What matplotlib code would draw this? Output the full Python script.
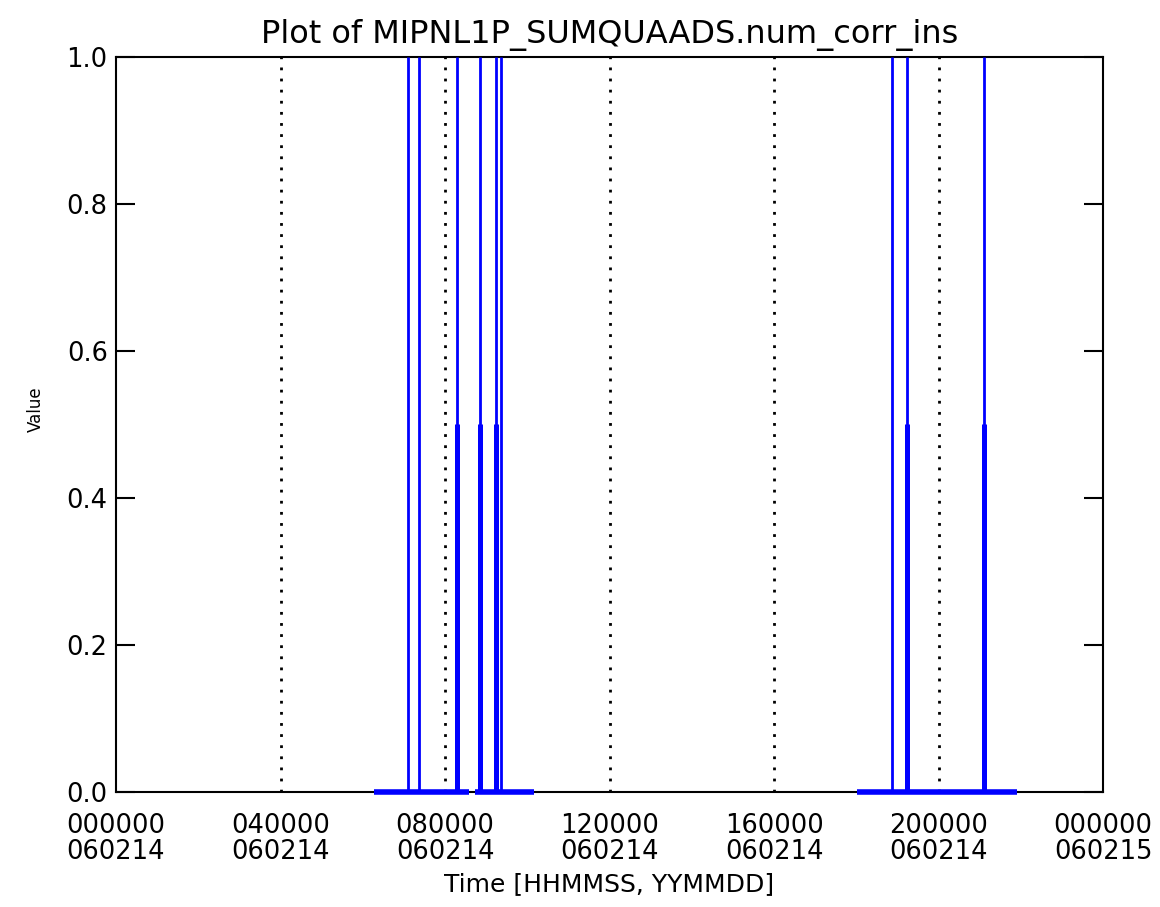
import matplotlib
matplotlib.use('Agg')
import matplotlib.pyplot as plt

# time in hours since 000000 060214
seg_start = [6.27, 8.73, 18.02]
seg_end = [8.58, 10.16, 21.91]
spike_t = [7.11, 7.37, 8.29, 8.86, 9.24, 9.37, 18.86, 19.23, 21.11]
spike_val = [1.0, 1.0, 1.0, 1.0, 1.0, 1.0, 1.0, 1.0, 1.0]
half_t = [8.29, 8.86, 9.24, 19.23, 21.11]
half_val = [0.5, 0.5, 0.5, 0.5, 0.5]

tick_hours = [0, 4, 8, 12, 16, 20, 24]
tick_labels = ['000000\n060214', '040000\n060214', '080000\n060214', '120000\n060214',
               '160000\n060214', '200000\n060214', '000000\n060215']
grid_hours = [4, 8, 12, 16, 20]
y_ticks = [0.0, 0.2, 0.4, 0.6, 0.8, 1.0]

blue = '#0000ff'

fig = plt.figure(figsize=(11.6, 9.07), dpi=100)
ax = fig.add_axes([0.1, 0.1268, 0.8509, 0.8104])

for h in grid_hours:
    ax.axvline(h, color='black', linestyle=(0, (1, 3)), linewidth=2, zorder=1)

for s, e in zip(seg_start, seg_end):
    ax.plot([s, e], [0, 0], color=blue, linewidth=4, solid_capstyle='butt',
            zorder=3, clip_on=False)
ax.vlines(spike_t, 0, spike_val, color=blue, linewidth=2, zorder=3)
ax.vlines(half_t, 0, half_val, color=blue, linewidth=3.6, zorder=3)

ax.set_xlim(0, 24)
ax.set_ylim(0, 1)
ax.set_xticks(tick_hours)
ax.set_xticklabels(tick_labels, fontsize=18.5, linespacing=1.0)
ax.set_yticks(y_ticks)
ax.set_yticklabels(['%.1f' % v for v in y_ticks], fontsize=18.5)
ax.tick_params(axis='x', length=0, pad=15)
ax.tick_params(axis='y', direction='in', length=14, width=1.5, left=True, right=True, pad=6)
for sp in ax.spines.values():
    sp.set_linewidth(1.5)

ax.set_title('Plot of MIPNL1P_SUMQUAADS.num_corr_ins', fontsize=23, pad=10)
ax.set_xlabel('Time [HHMMSS, YYMMDD]', fontsize=18, labelpad=5)
ax.set_ylabel('Value', fontsize=12)
ax.yaxis.set_label_coords(-0.072, 0.521)

fig.savefig('out.png', dpi=100)
